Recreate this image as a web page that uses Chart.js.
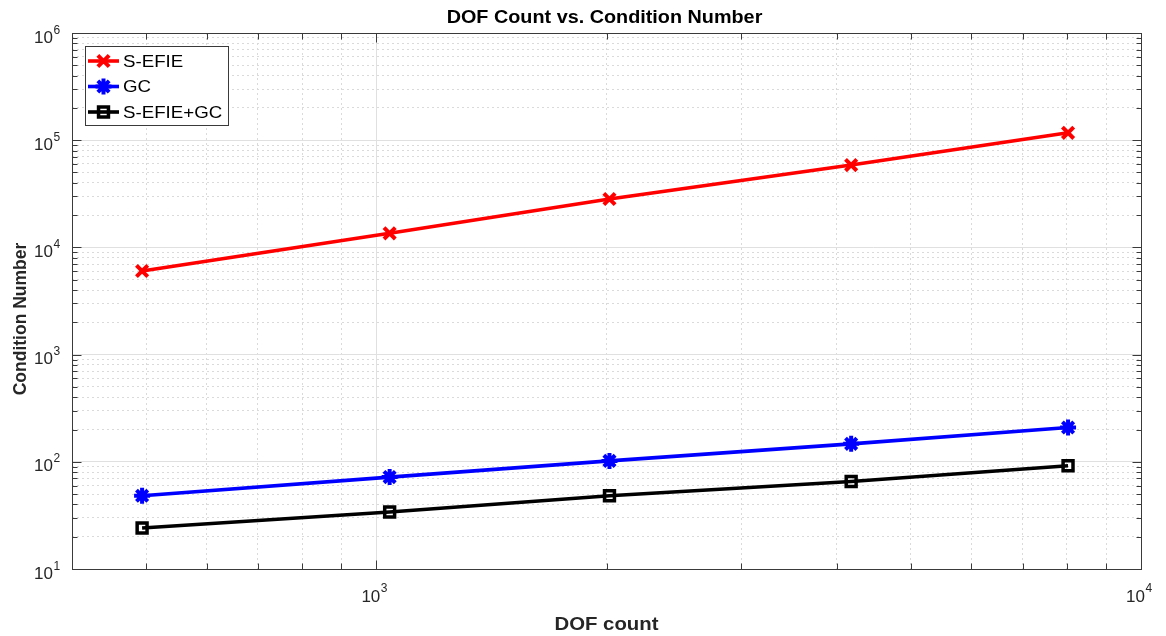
<!DOCTYPE html>
<html>
<head>
<meta charset="utf-8">
<title>DOF Count vs. Condition Number</title>
<script src="https://cdn.jsdelivr.net/npm/chart.js@4/dist/chart.umd.min.js"></script>
<style>
  html, body { margin: 0; padding: 0; background: #fff; }
  #wrap { width: 1166px; height: 636px; }
</style>
</head>
<body>
<div id="wrap"><canvas id="condChart" width="1166" height="636"></canvas></div>
<script>
// mesh sizes and the condition number of each formulation
const dofCount = [494, 1041, 2018, 4178, 8028];
const condSEFIE = [6030, 13530, 28250, 58600, 117200];
const condGC = [48.2, 72.0, 102, 147, 208.7];
const condSEFIEGC = [24.1, 34.0, 48.2, 65.5, 91.8];

const seriesLabels = ['S-EFIE', 'GC', 'S-EFIE+GC'];
const xTickExps = [3, 4];
const yTickExps = [1, 2, 3, 4, 5, 6];

const FONT = '"Liberation Sans", Arial, Helvetica, sans-serif';
const AXIS_COLOR = '#3a3a3a';
const TEXT_COLOR = '#262626';
const STRETCH = 1.1;

function toPoints(ys) {
  return dofCount.map((x, i) => ({ x: x, y: ys[i] }));
}

// 1..9 x 10^n ticks, like a matlab log axis
function logTicks(min, max) {
  const out = [];
  for (let e = Math.floor(Math.log10(min)); e <= Math.ceil(Math.log10(max)); e++) {
    for (let m = 1; m <= 9; m++) {
      const v = m * Math.pow(10, e);
      if (v >= min && v <= max) out.push({ value: v, major: m === 1 });
    }
  }
  return out;
}

function gridColor(ctx) {
  return ctx.tick && ctx.tick.major ? '#e0e0e0' : '#dadada';
}
function gridDash(ctx) {
  return ctx.tick && !ctx.tick.major ? [2, 3] : [];
}

function wideText(ctx, text, x, y, align, sx) {
  ctx.save();
  ctx.translate(x, y);
  ctx.scale(sx || STRETCH, 1);
  ctx.textAlign = align;
  ctx.fillText(text, 0, 0);
  ctx.restore();
}

// box, inward ticks, 10^n labels, titles and the boxed legend
const matlabAxes = {
  id: 'matlabAxes',
  afterDraw(chart) {
    const ctx = chart.ctx;
    const area = chart.chartArea;
    const xs = chart.scales.x;
    const ys = chart.scales.y;
    const L = Math.round(area.left) + 0.5;
    const R = Math.round(area.right) + 0.5;
    const T = Math.round(area.top) + 0.5;
    const B = Math.round(area.bottom) + 0.5;

    ctx.save();
    ctx.strokeStyle = AXIS_COLOR;
    ctx.lineWidth = 1;
    ctx.strokeRect(L, T, R - L, B - T);

    ctx.beginPath();
    xs.ticks.forEach(t => {
      const px = Math.round(xs.getPixelForValue(t.value)) + 0.5;
      const len = t.major ? 9 : 6;
      ctx.moveTo(px, B); ctx.lineTo(px, B - len);
      ctx.moveTo(px, T); ctx.lineTo(px, T + len);
    });
    ys.ticks.forEach(t => {
      const py = Math.round(ys.getPixelForValue(t.value)) + 0.5;
      const len = t.major ? 9 : 5;
      ctx.moveTo(L, py); ctx.lineTo(L + len, py);
      ctx.moveTo(R, py); ctx.lineTo(R - len, py);
    });
    ctx.stroke();

    // tick labels as 10 with a raised exponent
    ctx.fillStyle = TEXT_COLOR;
    ctx.textBaseline = 'alphabetic';
    yTickExps.forEach(e => {
      const py = ys.getPixelForValue(Math.pow(10, e));
      ctx.font = '17px ' + FONT;
      wideText(ctx, '10', 53, py + 9.5, 'right', 1);
      ctx.font = '12px ' + FONT;
      wideText(ctx, String(e), 53.5, py + 0.5, 'left', 1);
    });
    xTickExps.forEach(e => {
      const px = xs.getPixelForValue(Math.pow(10, e));
      ctx.font = '17px ' + FONT;
      wideText(ctx, '10', px + 4, 602, 'right', 1);
      ctx.font = '12px ' + FONT;
      wideText(ctx, String(e), px + 4.5, 592, 'left', 1);
    });

    // titles
    ctx.fillStyle = '#000';
    ctx.font = 'bold 18px ' + FONT;
    wideText(ctx, 'DOF Count vs. Condition Number', (area.left + area.right) / 2 - 2, 23, 'center');
    ctx.fillStyle = TEXT_COLOR;
    ctx.font = 'bold 18.5px ' + FONT;
    wideText(ctx, 'DOF count', (area.left + area.right) / 2, 630, 'center');
    ctx.save();
    ctx.translate(26, 319);
    ctx.rotate(-Math.PI / 2);
    ctx.font = 'bold 17.5px ' + FONT;
    ctx.textAlign = 'center';
    ctx.fillText('Condition Number', 0, 0);
    ctx.restore();

    // legend
    const box = { x: 85.5, y: 46.5, w: 143, h: 79 };
    ctx.fillStyle = '#fff';
    ctx.fillRect(box.x, box.y, box.w, box.h);
    ctx.strokeStyle = AXIS_COLOR;
    ctx.lineWidth = 1;
    ctx.strokeRect(box.x, box.y, box.w, box.h);
    chart.data.datasets.forEach((ds, i) => {
      const cy = 61 + i * 25.5;
      ctx.strokeStyle = ds.borderColor;
      ctx.lineWidth = ds.borderWidth;
      ctx.beginPath();
      ctx.moveTo(88, cy); ctx.lineTo(119, cy);
      ctx.stroke();
      ctx.lineWidth = ds.pointBorderWidth;
      ctx.fillStyle = ds.pointBackgroundColor;
      Chart.helpers.drawPoint(ctx, {
        pointStyle: ds.pointStyle, radius: ds.pointRadius,
        borderWidth: ds.pointBorderWidth, rotation: 0
      }, 103.5, cy);
      ctx.fillStyle = '#000';
      ctx.font = '17px ' + FONT;
      ctx.textBaseline = 'middle';
      wideText(ctx, ds.label, 123, cy + 1, 'left');
    });
    ctx.restore();
  }
};

const ctx = document.getElementById('condChart').getContext('2d');
new Chart(ctx, {
  type: 'line',
  data: {
    datasets: [{
      label: seriesLabels[0],
      data: toPoints(condSEFIE),
      borderColor: '#ff0000',
      borderWidth: 3.6,
      pointStyle: 'crossRot',
      pointRadius: 8,
      pointBorderWidth: 4,
      pointBorderColor: '#ff0000',
      pointBackgroundColor: '#ff0000'
    }, {
      label: seriesLabels[1],
      data: toPoints(condGC),
      borderColor: '#0000ff',
      borderWidth: 3.6,
      pointStyle: 'star',
      pointRadius: 8,
      pointBorderWidth: 4,
      pointBorderColor: '#0000ff',
      pointBackgroundColor: '#0000ff'
    }, {
      label: seriesLabels[2],
      data: toPoints(condSEFIEGC),
      borderColor: '#000000',
      borderWidth: 3.6,
      pointStyle: 'rect',
      pointRadius: 7,
      pointBorderWidth: 3.5,
      pointBorderColor: '#000000',
      pointBackgroundColor: 'rgba(0,0,0,0)'
    }]
  },
  options: {
    responsive: false,
    animation: false,
    devicePixelRatio: 1,
    layout: { padding: { left: 72, right: 25, top: 33, bottom: 67 } },
    plugins: {
      legend: { display: false },
      title: { display: false },
      tooltip: { enabled: false }
    },
    elements: { line: { tension: 0 } },
    scales: {
      x: {
        type: 'logarithmic',
        min: 400,
        max: 10000,
        afterBuildTicks: s => { s.ticks = logTicks(s.min, s.max); },
        afterFit: s => { s.height = 0; },
        ticks: { display: false, autoSkip: false },
        grid: { drawTicks: false, color: gridColor, lineWidth: 1 },
        border: { display: false, dash: gridDash }
      },
      y: {
        type: 'logarithmic',
        min: 10,
        max: 1e6,
        afterBuildTicks: s => { s.ticks = logTicks(s.min, s.max); },
        afterFit: s => { s.width = 0; },
        ticks: { display: false, autoSkip: false },
        grid: { drawTicks: false, color: gridColor, lineWidth: 1 },
        border: { display: false, dash: gridDash }
      }
    }
  },
  plugins: [matlabAxes]
});
</script>
</body>
</html>
